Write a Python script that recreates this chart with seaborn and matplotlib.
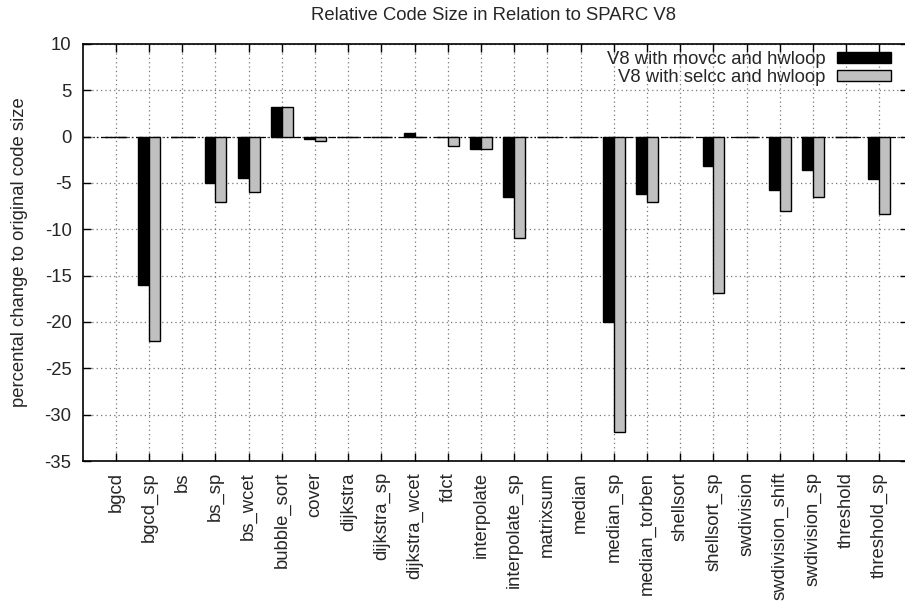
import matplotlib
matplotlib.use("Agg")
import matplotlib.pyplot as plt
import seaborn as sns
import pandas as pd

categories = ["bgcd", "bgcd_sp", "bs", "bs_sp", "bs_wcet", "bubble_sort", "cover",
              "dijkstra", "dijkstra_sp", "dijkstra_wcet", "fdct", "interpolate",
              "interpolate_sp", "matrixsum", "median", "median_sp", "median_torben",
              "shellsort", "shellsort_sp", "swdivision", "swdivision_shift",
              "swdivision_sp", "threshold", "threshold_sp"]
movcc = [0, -16.0, 0, -5.0, -4.43, 3.16, -0.29, 0, 0, 0.43, 0, -1.33,
         -6.55, 0, 0, -20.0, -6.15, 0, -3.2, 0, -5.75, -3.63, 0, -4.53]
selcc = [0, -22.0, 0, -7.05, -5.95, 3.16, -0.5, 0, 0, 0, -1.0, -1.3,
         -10.9, 0, 0, -31.9, -7.1, 0, -16.9, 0, -7.98, -6.47, 0, -8.3]
series_names = ["V8 with movcc and hwloop", "V8 with selcc and hwloop"]
yticks = [10, 5, 0, -5, -10, -15, -20, -25, -30, -35]

df = pd.DataFrame({
    "benchmark": categories * 2,
    "value": movcc + selcc,
    "series": [series_names[0]] * len(categories) + [series_names[1]] * len(categories),
})

sns.set_style("white")
plt.rcParams["font.family"] = ["Liberation Sans", "DejaVu Sans"]
FS = 13.3

fig = plt.figure(figsize=(9.05, 6.03), dpi=100)
ax = fig.add_axes([82.7 / 905, 1 - 461 / 603, (908 - 82.7) / 905, 417 / 603])

sns.barplot(data=df, x="benchmark", y="value", hue="series", order=categories,
            hue_order=series_names, palette=["#000000", "#c0c0c0"],
            width=0.66, edgecolor="black", linewidth=1.0, ax=ax, zorder=3,
            err_kws={"linewidth": 0})

ax.set_xlim(-1, 23.86)
ax.set_ylim(-35, 10)
ax.set_yticks(yticks)
ax.set_yticklabels([str(t) for t in yticks], fontsize=FS)
ax.set_xticks(range(len(categories)))
ax.set_xticklabels(categories, rotation=90, fontsize=FS, va="top", ha="center")
ax.tick_params(axis="both", direction="in", length=6, width=1.0, color="black",
               top=True, right=True, bottom=True, left=True, pad=8)
ax.set_xlabel("")
ax.set_ylabel("percental change to original code size", fontsize=FS, labelpad=12)

ax.grid(True, linestyle=(0, (1, 2.5)), color="#777777", linewidth=0.9, zorder=0)
ax.axhline(0, color="black", linestyle=(0, (6, 2, 1, 2, 1, 2)), linewidth=0.9, zorder=2)
for s in ax.spines.values():
    s.set_color("black")
    s.set_linewidth(1.2)
    s.set_visible(True)

fig.text((82.7 + 904) / 2 / 905, 1 - 15 / 603, "Relative Code Size in Relation to SPARC V8",
         ha="center", va="center", fontsize=FS)

leg = ax.legend(loc="upper right", bbox_to_anchor=(891 / 905, 1 - 51 / 603),
                bbox_transform=fig.transFigure, frameon=False, markerfirst=False,
                fontsize=FS, handlelength=2.9, handleheight=0.55, handletextpad=0.65,
                labelspacing=0.05, borderpad=0, borderaxespad=0, title=None)
for t in leg.get_texts():
    t.set_ha("right")

fig.savefig("out.png", dpi=100)
